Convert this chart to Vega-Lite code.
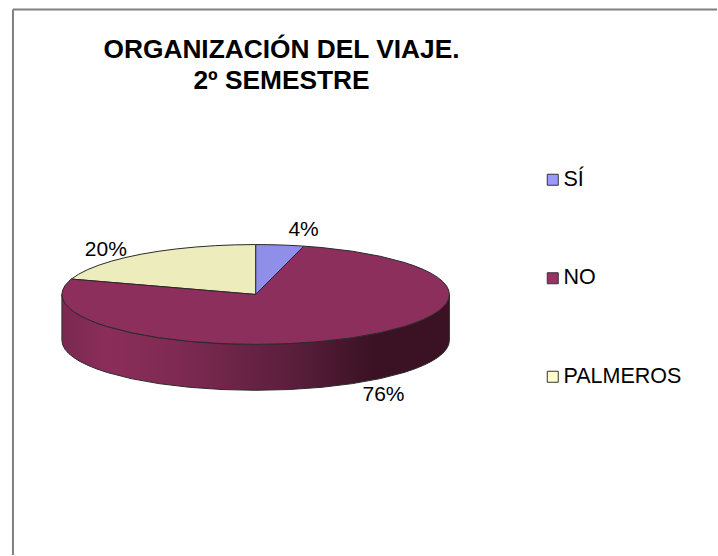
{"$schema":"https://vega.github.io/schema/vega-lite/v6.json","width":718,"height":556,"autosize":{"type":"fit","contains":"padding"},"padding":0,"background":"white","view":{"stroke":null},
"title":{"text":["ORGANIZACIÓN DEL VIAJE.","2º SEMESTRE"],"font":"Liberation Sans","fontSize":26.3,"fontWeight":"bold","color":"#000000","anchor":"middle","frame":"group","dx":-77,"dy":94,"offset":0,"lineHeight":31},
"datasets":{
"slices":[{"slice":"SÍ","value":4,"lx":0.2474,"ly":1.3},{"slice":"NO","value":76,"lx":0.6598,"ly":-2.02},{"slice":"PALMEROS","value":20,"lx":-0.7732,"ly":0.9}],
"frame":[{"x1":-1.2526,"x2":2.3814,"y1":5.71,"y2":5.71},{"x1":-1.2526,"x2":-1.2526,"y1":5.71,"y2":-5.22}],
"wall":[{"x":-1,"y":0,"yb":-0.92},{"x":-0.9962,"y":-0.0872,"yb":-1.0072},{"x":-0.9848,"y":-0.1736,"yb":-1.0936},{"x":-0.9659,"y":-0.2588,"yb":-1.1788},{"x":-0.9397,"y":-0.342,"yb":-1.262},{"x":-0.9063,"y":-0.4226,"yb":-1.3426},{"x":-0.866,"y":-0.5,"yb":-1.42},{"x":-0.8192,"y":-0.5736,"yb":-1.4936},{"x":-0.766,"y":-0.6428,"yb":-1.5628},{"x":-0.6428,"y":-0.766,"yb":-1.686},{"x":-0.5,"y":-0.866,"yb":-1.786},{"x":-0.342,"y":-0.9397,"yb":-1.8597},{"x":-0.1736,"y":-0.9848,"yb":-1.9048},{"x":0,"y":-1,"yb":-1.92},{"x":0.1736,"y":-0.9848,"yb":-1.9048},{"x":0.342,"y":-0.9397,"yb":-1.8597},{"x":0.5,"y":-0.866,"yb":-1.786},{"x":0.6428,"y":-0.766,"yb":-1.686},{"x":0.766,"y":-0.6428,"yb":-1.5628},{"x":0.8192,"y":-0.5736,"yb":-1.4936},{"x":0.866,"y":-0.5,"yb":-1.42},{"x":0.9063,"y":-0.4226,"yb":-1.3426},{"x":0.9397,"y":-0.342,"yb":-1.262},{"x":0.9659,"y":-0.2588,"yb":-1.1788},{"x":0.9848,"y":-0.1736,"yb":-1.0936},{"x":0.9962,"y":-0.0872,"yb":-1.0072},{"x":1,"y":0,"yb":-0.92}],
"faces":[
{"s":"SÍ","i":0,"x":0,"y":0},{"s":"SÍ","i":1,"x":0,"y":1},{"s":"SÍ","i":2,"x":0.0628,"y":0.998},{"s":"SÍ","i":3,"x":0.1253,"y":0.9921},{"s":"SÍ","i":4,"x":0.1874,"y":0.9823},{"s":"SÍ","i":5,"x":0.2487,"y":0.9686},{"s":"SÍ","i":6,"x":0,"y":0},
{"s":"PALMEROS","i":0,"x":0,"y":0},{"s":"PALMEROS","i":1,"x":-0.9511,"y":0.309},{"s":"PALMEROS","i":2,"x":-0.9135,"y":0.4067},{"s":"PALMEROS","i":3,"x":-0.866,"y":0.5},{"s":"PALMEROS","i":4,"x":-0.809,"y":0.5878},{"s":"PALMEROS","i":5,"x":-0.7431,"y":0.6691},{"s":"PALMEROS","i":6,"x":-0.6691,"y":0.7431},{"s":"PALMEROS","i":7,"x":-0.5878,"y":0.809},{"s":"PALMEROS","i":8,"x":-0.5,"y":0.866},{"s":"PALMEROS","i":9,"x":-0.4067,"y":0.9135},{"s":"PALMEROS","i":10,"x":-0.309,"y":0.9511},{"s":"PALMEROS","i":11,"x":-0.2079,"y":0.9781},{"s":"PALMEROS","i":12,"x":-0.1045,"y":0.9945},{"s":"PALMEROS","i":13,"x":0,"y":1},{"s":"PALMEROS","i":14,"x":0,"y":0},
{"s":"NO","i":0,"x":0,"y":0},{"s":"NO","i":1,"x":0.2487,"y":0.9686},{"s":"NO","i":2,"x":0.342,"y":0.9397},{"s":"NO","i":3,"x":0.5,"y":0.866},{"s":"NO","i":4,"x":0.6428,"y":0.766},{"s":"NO","i":5,"x":0.766,"y":0.6428},{"s":"NO","i":6,"x":0.8192,"y":0.5736},{"s":"NO","i":7,"x":0.866,"y":0.5},{"s":"NO","i":8,"x":0.9063,"y":0.4226},{"s":"NO","i":9,"x":0.9397,"y":0.342},{"s":"NO","i":10,"x":0.9659,"y":0.2588},{"s":"NO","i":11,"x":0.9848,"y":0.1736},{"s":"NO","i":12,"x":0.9962,"y":0.0872},{"s":"NO","i":13,"x":1,"y":0},{"s":"NO","i":14,"x":0.9962,"y":-0.0872},{"s":"NO","i":15,"x":0.9848,"y":-0.1736},{"s":"NO","i":16,"x":0.9659,"y":-0.2588},{"s":"NO","i":17,"x":0.9397,"y":-0.342},{"s":"NO","i":18,"x":0.9063,"y":-0.4226},{"s":"NO","i":19,"x":0.866,"y":-0.5},{"s":"NO","i":20,"x":0.8192,"y":-0.5736},{"s":"NO","i":21,"x":0.766,"y":-0.6428},{"s":"NO","i":22,"x":0.6428,"y":-0.766},{"s":"NO","i":23,"x":0.5,"y":-0.866},{"s":"NO","i":24,"x":0.342,"y":-0.9397},{"s":"NO","i":25,"x":0.1736,"y":-0.9848},{"s":"NO","i":26,"x":0,"y":-1},{"s":"NO","i":27,"x":-0.1736,"y":-0.9848},{"s":"NO","i":28,"x":-0.342,"y":-0.9397},{"s":"NO","i":29,"x":-0.5,"y":-0.866},{"s":"NO","i":30,"x":-0.6428,"y":-0.766},{"s":"NO","i":31,"x":-0.766,"y":-0.6428},{"s":"NO","i":32,"x":-0.8192,"y":-0.5736},{"s":"NO","i":33,"x":-0.866,"y":-0.5},{"s":"NO","i":34,"x":-0.9063,"y":-0.4226},{"s":"NO","i":35,"x":-0.9397,"y":-0.342},{"s":"NO","i":36,"x":-0.9659,"y":-0.2588},{"s":"NO","i":37,"x":-0.9848,"y":-0.1736},{"s":"NO","i":38,"x":-0.9962,"y":-0.0872},{"s":"NO","i":39,"x":-1,"y":0},{"s":"NO","i":40,"x":-0.9962,"y":0.0872},{"s":"NO","i":41,"x":-0.9848,"y":0.1736},{"s":"NO","i":42,"x":-0.9659,"y":0.2588},{"s":"NO","i":43,"x":-0.9511,"y":0.309},{"s":"NO","i":44,"x":0,"y":0}
]},
"layer":[
{"data":{"name":"frame"},"mark":{"type":"rule","color":"#808080","strokeWidth":2},"encoding":{"x":{"field":"x1","type":"quantitative","scale":{"domain":[-1.3196,2.3814],"nice":false,"zero":false},"axis":null},"x2":{"field":"x2"},"y":{"field":"y1","type":"quantitative","scale":{"domain":[-5.22,5.9],"nice":false,"zero":false},"axis":null},"y2":{"field":"y2"}}},
{"data":{"name":"wall"},"mark":{"type":"area","stroke":"#2a2a2a","strokeWidth":1,"fill":{"gradient":"linear","x1":0,"y1":0,"x2":1,"y2":0,"stops":[{"offset":0,"color":"#7a2950"},{"offset":0.12,"color":"#8b2d5a"},{"offset":0.3,"color":"#7e2a52"},{"offset":0.6,"color":"#5a1e3b"},{"offset":0.8,"color":"#3b1224"},{"offset":1,"color":"#3b1224"}]}},"encoding":{"x":{"field":"x","type":"quantitative"},"y":{"field":"y","type":"quantitative"},"y2":{"field":"yb"}}},
{"data":{"name":"faces"},"mark":{"type":"line","stroke":"#2a2a2a","strokeWidth":1,"strokeJoin":"round"},"encoding":{"x":{"field":"x","type":"quantitative"},"y":{"field":"y","type":"quantitative"},"detail":{"field":"s"},"order":{"field":"i","type":"quantitative"},"fill":{"field":"s","type":"nominal","scale":{"domain":["NO","SÍ","PALMEROS"],"range":["#8c2f5c","#8f8fea","#ececbc"]},"legend":null}}},
{"data":{"name":"slices"},"mark":{"type":"square","size":0},"encoding":{"x":{"field":"lx","type":"quantitative"},"y":{"field":"ly","type":"quantitative"},"color":{"field":"slice","type":"nominal","scale":{"domain":["SÍ","NO","PALMEROS"],"range":["#9999ff","#993366","#ffffcc"]},"legend":{"title":null,"orient":"none","legendX":542,"legendY":169,"symbolType":"square","symbolSize":121,"symbolOpacity":1,"symbolStrokeColor":"#333333","symbolStrokeWidth":1,"labelFont":"Liberation Sans","labelFontSize":21.5,"labelColor":"#000000","labelLimit":200,"labelOffset":0,"rowPadding":75.5}}}},
{"data":{"name":"slices"},"transform":[{"calculate":"datum.value + '%'","as":"pct"}],"mark":{"type":"text","font":"Liberation Sans","fontSize":21,"color":"#000000","baseline":"middle","align":"center"},"encoding":{"x":{"field":"lx","type":"quantitative"},"y":{"field":"ly","type":"quantitative"},"text":{"field":"pct"}}}
]}
